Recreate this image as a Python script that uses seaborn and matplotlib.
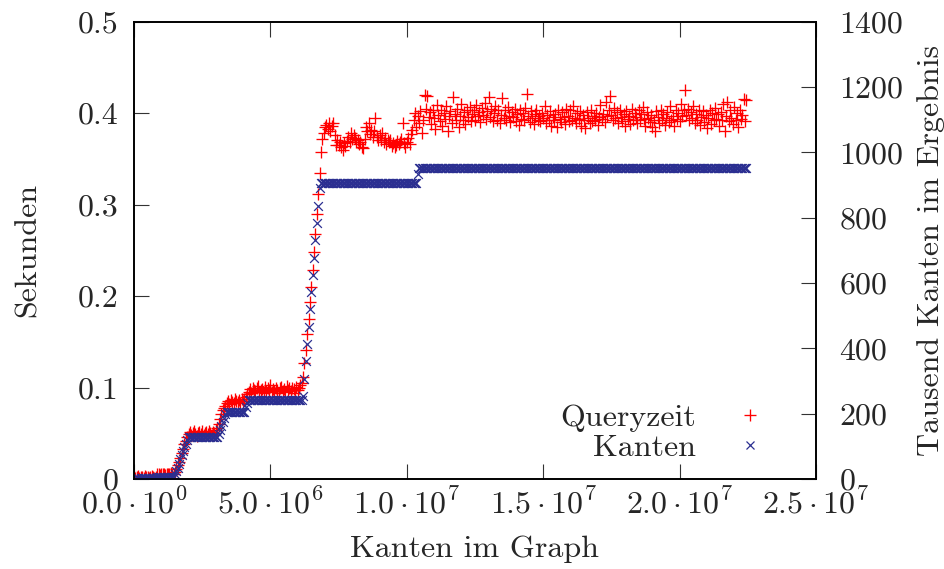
import numpy as np
import pandas as pd
import matplotlib
matplotlib.use("Agg")
import matplotlib.pyplot as plt
import seaborn as sns
from matplotlib.lines import Line2D

# ---------------- data ----------------
# Kanten im Graph, in units of 10^4 edges
kanten_graph_1e4 = [
    0, 5, 10, 15, 20, 25, 30, 35, 40, 45, 50, 55, 60, 65, 70, 75, 80, 85, 90, 95,
    100, 105, 110, 115, 120, 125, 130, 135, 140, 145, 150, 155, 160, 165, 170, 175, 180, 185, 190, 195,
    200, 205, 210, 215, 220, 225, 230, 235, 240, 245, 250, 255, 260, 265, 270, 275, 280, 285, 290, 295,
    300, 305, 310, 315, 320, 325, 330, 335, 340, 345, 350, 355, 360, 365, 370, 375, 380, 385, 390, 395,
    400, 405, 410, 415, 420, 425, 430, 435, 440, 445, 450, 455, 460, 465, 470, 475, 480, 485, 490, 495,
    500, 505, 510, 515, 520, 525, 530, 535, 540, 545, 550, 555, 560, 565, 570, 575, 580, 585, 590, 595,
    600, 605, 610, 615, 620, 625, 630, 635, 640, 645, 650, 655, 660, 665, 670, 675, 680, 685, 690, 695,
    700, 705, 710, 715, 720, 725, 730, 735, 740, 745, 750, 755, 760, 765, 770, 775, 780, 785, 790, 795,
    800, 805, 810, 815, 820, 825, 830, 835, 840, 845, 850, 855, 860, 865, 870, 875, 880, 885, 890, 895,
    900, 905, 910, 915, 920, 925, 930, 935, 940, 945, 950, 955, 960, 965, 970, 975, 980, 985, 990, 995,
    1000, 1005, 1010, 1015, 1020, 1025, 1030, 1035, 1040, 1045, 1050, 1055, 1060, 1065, 1070, 1075, 1080, 1085, 1090, 1095,
    1100, 1105, 1110, 1115, 1120, 1125, 1130, 1135, 1140, 1145, 1150, 1155, 1160, 1165, 1170, 1175, 1180, 1185, 1190, 1195,
    1200, 1205, 1210, 1215, 1220, 1225, 1230, 1235, 1240, 1245, 1250, 1255, 1260, 1265, 1270, 1275, 1280, 1285, 1290, 1295,
    1300, 1305, 1310, 1315, 1320, 1325, 1330, 1335, 1340, 1345, 1350, 1355, 1360, 1365, 1370, 1375, 1380, 1385, 1390, 1395,
    1400, 1405, 1410, 1415, 1420, 1425, 1430, 1435, 1440, 1445, 1450, 1455, 1460, 1465, 1470, 1475, 1480, 1485, 1490, 1495,
    1500, 1505, 1510, 1515, 1520, 1525, 1530, 1535, 1540, 1545, 1550, 1555, 1560, 1565, 1570, 1575, 1580, 1585, 1590, 1595,
    1600, 1605, 1610, 1615, 1620, 1625, 1630, 1635, 1640, 1645, 1650, 1655, 1660, 1665, 1670, 1675, 1680, 1685, 1690, 1695,
    1700, 1705, 1710, 1715, 1720, 1725, 1730, 1735, 1740, 1745, 1750, 1755, 1760, 1765, 1770, 1775, 1780, 1785, 1790, 1795,
    1800, 1805, 1810, 1815, 1820, 1825, 1830, 1835, 1840, 1845, 1850, 1855, 1860, 1865, 1870, 1875, 1880, 1885, 1890, 1895,
    1900, 1905, 1910, 1915, 1920, 1925, 1930, 1935, 1940, 1945, 1950, 1955, 1960, 1965, 1970, 1975, 1980, 1985, 1990, 1995,
    2000, 2005, 2010, 2015, 2020, 2025, 2030, 2035, 2040, 2045, 2050, 2055, 2060, 2065, 2070, 2075, 2080, 2085, 2090, 2095,
    2100, 2105, 2110, 2115, 2120, 2125, 2130, 2135, 2140, 2145, 2150, 2155, 2160, 2165, 2170, 2175, 2180, 2185, 2190, 2195,
    2200, 2205, 2210, 2215, 2220, 2225, 2230, 2235, 2240, 2245,
]

# Queryzeit in Sekunden (left axis)
queryzeit_s = [
    0.002, 0.001, 0.002, 0.003, 0.001, 0.002, 0.002, 0.001, 0.003, 0.002, 0.002, 0.001, 0.002, 0.003, 0.002, 0.001, 0.002,
    0.005, 0.006, 0.004, 0.005, 0.006, 0.005, 0.004, 0.006, 0.005, 0.005, 0.007, 0.005, 0.006,
    0.008, 0.011, 0.015, 0.019, 0.023, 0.028, 0.033, 0.038, 0.042, 0.046,
    0.049, 0.051, 0.048, 0.050, 0.052, 0.049, 0.047, 0.050, 0.051, 0.049, 0.053, 0.048, 0.050, 0.051, 0.049, 0.052,
    0.050, 0.048, 0.051, 0.050, 0.054, 0.056,
    0.060, 0.066, 0.071, 0.075, 0.078, 0.080,
    0.083, 0.085, 0.082, 0.086, 0.084, 0.083, 0.087, 0.085, 0.084, 0.086, 0.083, 0.088, 0.085, 0.087,
    0.090, 0.093,
    0.095, 0.098, 0.094, 0.100, 0.097, 0.096, 0.099, 0.102, 0.095, 0.097,
    0.098, 0.094, 0.101, 0.096, 0.099, 0.097, 0.103, 0.095, 0.098, 0.096,
    0.100, 0.097, 0.094, 0.099, 0.101, 0.096, 0.098, 0.095, 0.102, 0.097,
    0.099, 0.096, 0.100, 0.098, 0.094, 0.101, 0.097, 0.099, 0.103, 0.105,
    0.112, 0.127, 0.141, 0.158, 0.175, 0.193, 0.210, 0.228, 0.248, 0.268, 0.290, 0.312, 0.335,
    0.358, 0.372, 0.378, 0.385, 0.387, 0.383, 0.389, 0.380, 0.386, 0.389,
    0.376, 0.365, 0.371, 0.365, 0.368, 0.363, 0.360, 0.367, 0.364, 0.370,
    0.374, 0.368, 0.378, 0.372, 0.376, 0.373, 0.368, 0.371, 0.366, 0.369,
    0.363, 0.362, 0.372, 0.385, 0.380, 0.389, 0.377, 0.382, 0.374, 0.380,
    0.395, 0.374, 0.371, 0.376, 0.371, 0.378, 0.369, 0.373, 0.366, 0.371,
    0.368, 0.371, 0.364, 0.367, 0.363, 0.365, 0.370, 0.366, 0.369, 0.372,
    0.389, 0.367, 0.363, 0.368, 0.373, 0.366, 0.377, 0.382, 0.392, 0.400,
    0.385,
    0.397, 0.389, 0.402, 0.378, 0.392, 0.420, 0.405, 0.419, 0.396, 0.401,
    0.388, 0.404, 0.395, 0.383, 0.409, 0.398, 0.391, 0.403, 0.386, 0.400,
    0.394, 0.408, 0.381, 0.397, 0.402, 0.389, 0.418, 0.399, 0.392, 0.405,
    0.385, 0.397, 0.410, 0.393, 0.401, 0.388, 0.404, 0.396, 0.407, 0.391,
    0.399, 0.403, 0.392, 0.409, 0.397, 0.401, 0.390, 0.406, 0.398, 0.411,
    0.394, 0.402, 0.418, 0.396, 0.405, 0.391, 0.400, 0.408, 0.393, 0.403,
    0.389, 0.398, 0.417, 0.395, 0.404, 0.392, 0.407, 0.397, 0.390, 0.401,
    0.396, 0.405, 0.391, 0.399, 0.387, 0.403, 0.394, 0.400, 0.392, 0.406,
    0.421, 0.397, 0.390, 0.402, 0.395, 0.388, 0.399, 0.404, 0.393, 0.397,
    0.391, 0.400, 0.395, 0.408, 0.389, 0.398, 0.393, 0.402, 0.386, 0.396,
    0.392, 0.399, 0.385, 0.403, 0.394, 0.390, 0.401, 0.396, 0.388, 0.405,
    0.397, 0.391, 0.404, 0.393, 0.408, 0.395, 0.389, 0.400, 0.394, 0.402,
    0.386, 0.398, 0.392, 0.384, 0.401, 0.395, 0.389, 0.404, 0.391, 0.397,
    0.393, 0.400, 0.387, 0.396, 0.409, 0.394, 0.399, 0.390, 0.412, 0.397,
    0.404, 0.419, 0.398, 0.392, 0.406, 0.395, 0.401, 0.389, 0.403, 0.396,
    0.391, 0.399, 0.386, 0.402, 0.394, 0.397, 0.388, 0.405, 0.393, 0.400,
    0.396, 0.389, 0.403, 0.392, 0.399, 0.407, 0.394, 0.386, 0.401, 0.395,
    0.390, 0.398, 0.385, 0.393, 0.381, 0.402, 0.396, 0.389, 0.404, 0.392,
    0.399, 0.387, 0.395, 0.401, 0.390, 0.408, 0.393, 0.397, 0.386, 0.403,
    0.394, 0.400, 0.391, 0.410, 0.397, 0.404, 0.425, 0.398, 0.405, 0.392,
    0.401, 0.395, 0.408, 0.389, 0.399, 0.393, 0.404, 0.387, 0.396, 0.402,
    0.390, 0.398, 0.384, 0.395, 0.403, 0.388, 0.400, 0.392, 0.406, 0.394,
    0.399, 0.386, 0.401, 0.393, 0.410, 0.380, 0.397, 0.412, 0.391, 0.404,
    0.395, 0.388, 0.407, 0.392, 0.400, 0.385, 0.403, 0.394, 0.398, 0.416,
    0.391, 0.414,
]

# Tausend Kanten im Ergebnis (right axis)
kanten_ergebnis_k = [
    1, 1, 2, 2, 1, 2, 2, 3, 2, 2, 3, 2, 3, 3, 2, 3, 3,
    7, 7, 7, 7, 7, 7, 7, 7, 7, 7, 7, 7, 7,
    15, 24, 35, 47, 60, 72, 85, 97, 108, 118,
    128, 128, 128, 128, 128, 128, 128, 128, 128, 128, 128, 128, 128, 128, 128, 128, 128, 128, 128, 128,
    128, 128,
    138, 150, 163, 176, 188, 198,
    206, 206, 206, 206, 206, 206, 206, 206, 206, 206, 206, 206, 206, 206,
    220, 232,
    242, 242, 242, 242, 242, 242, 242, 242, 242, 242, 242, 242, 242, 242, 242, 242, 242, 242, 242, 242,
    242, 242, 242, 242, 242, 242, 242, 242, 242, 242, 242, 242, 242, 242, 242, 242, 242, 242, 242, 242,
    254, 307, 360, 413, 466, 519, 572, 625, 678, 731, 784, 837, 890,
    906, 906, 906, 906, 906, 906, 906, 906, 906, 906, 906, 906, 906, 906, 906, 906, 906, 906, 906, 906,
    906, 906, 906, 906, 906, 906, 906, 906, 906, 906, 906, 906, 906, 906, 906, 906, 906, 906, 906, 906,
    906, 906, 906, 906, 906, 906, 906, 906, 906, 906, 906, 906, 906, 906, 906, 906, 906, 906, 906, 906,
    906, 906, 906, 906, 906, 906, 906, 906, 906, 906, 906,
    935,
    952, 952, 952, 952, 952, 952, 952, 952, 952, 952, 952, 952, 952, 952, 952, 952, 952, 952, 952, 952,
    952, 952, 952, 952, 952, 952, 952, 952, 952, 952, 952, 952, 952, 952, 952, 952, 952, 952, 952, 952,
    952, 952, 952, 952, 952, 952, 952, 952, 952, 952, 952, 952, 952, 952, 952, 952, 952, 952, 952, 952,
    952, 952, 952, 952, 952, 952, 952, 952, 952, 952, 952, 952, 952, 952, 952, 952, 952, 952, 952, 952,
    952, 952, 952, 952, 952, 952, 952, 952, 952, 952, 952, 952, 952, 952, 952, 952, 952, 952, 952, 952,
    952, 952, 952, 952, 952, 952, 952, 952, 952, 952, 952, 952, 952, 952, 952, 952, 952, 952, 952, 952,
    952, 952, 952, 952, 952, 952, 952, 952, 952, 952, 952, 952, 952, 952, 952, 952, 952, 952, 952, 952,
    952, 952, 952, 952, 952, 952, 952, 952, 952, 952, 952, 952, 952, 952, 952, 952, 952, 952, 952, 952,
    952, 952, 952, 952, 952, 952, 952, 952, 952, 952, 952, 952, 952, 952, 952, 952, 952, 952, 952, 952,
    952, 952, 952, 952, 952, 952, 952, 952, 952, 952, 952, 952, 952, 952, 952, 952, 952, 952, 952, 952,
    952, 952, 952, 952, 952, 952, 952, 952, 952, 952, 952, 952, 952, 952, 952, 952, 952, 952, 952, 952,
    952, 952, 952, 952, 952, 952, 952, 952, 952, 952, 952, 952, 952, 952, 952, 952, 952, 952, 952, 952,
    952,
]

x_ticks = [0, 5e6, 1e7, 1.5e7, 2e7, 2.5e7]
x_tick_labels = [r"$0.0\cdot10^{0}$", r"$5.0\cdot10^{6}$", r"$1.0\cdot10^{7}$",
                 r"$1.5\cdot10^{7}$", r"$2.0\cdot10^{7}$", r"$2.5\cdot10^{7}$"]
y_left_ticks = [0, 0.1, 0.2, 0.3, 0.4, 0.5]
y_left_labels = ["0", "0.1", "0.2", "0.3", "0.4", "0.5"]
y_right_ticks = [0, 200, 400, 600, 800, 1000, 1200, 1400]
y_right_labels = ["0", "200", "400", "600", "800", "1000", "1200", "1400"]

series_names = ["Queryzeit", "Kanten"]

# ---------------- style ----------------
sns.set_theme(style="white")
plt.rcParams.update({
    "font.family": "serif",
    "font.serif": ["cmr10"],
    "mathtext.fontset": "cm",
    "axes.unicode_minus": False,
    "axes.formatter.use_mathtext": True,
})

RED = "#ff0000"
BLUE = "#2b2f91"
FS = 23

df = pd.DataFrame({
    "x": np.asarray(kanten_graph_1e4, dtype=float) * 1e4,
    "q": queryzeit_s,
    "k": kanten_ergebnis_k,
})

W, H = 945, 569
fig = plt.figure(figsize=(W / 100, H / 100), dpi=100)
L, R, T, B = 134, 816, 21.7, 479
ax = fig.add_axes([L / W, 1 - B / H, (R - L) / W, (B - T) / H])
ax2 = ax.twinx()

sns.scatterplot(data=df, x="x", y="q", marker="+", color=RED, s=70,
                linewidth=0.95, ax=ax, legend=False)
sns.scatterplot(data=df, x="x", y="k", marker="x", color=BLUE, s=40,
                linewidth=0.9, ax=ax2, legend=False)
# make sure the unfilled markers are drawn in their series colour
for a, c in ((ax, RED), (ax2, BLUE)):
    for coll in a.collections:
        coll.set_facecolor(c)
        coll.set_edgecolor(c)

ax.set_xlim(0, 2.5e7)
ax.set_ylim(0, 0.5)
ax2.set_ylim(0, 1400)

ax.set_xticks(x_ticks, x_tick_labels)
ax.set_yticks(y_left_ticks, y_left_labels)
ax2.set_yticks(y_right_ticks, y_right_labels)

tick_len = 11
ax.tick_params(axis="x", direction="in", length=tick_len, width=0.8, top=True, bottom=True,
               labelsize=FS, pad=6, color="#333333")
ax.tick_params(axis="y", direction="in", length=tick_len, width=0.8, left=True, right=False,
               labelsize=FS, pad=11, color="#333333")
ax2.tick_params(axis="y", direction="in", length=tick_len, width=0.8, right=True, left=False,
                labelsize=FS, pad=17, color="#333333")

for a in (ax, ax2):
    for sp in a.spines.values():
        sp.set_linewidth(1.2)
        sp.set_color("black")
        sp.set_visible(True)

ax.set_xlabel("Kanten im Graph", fontsize=FS)
ax.set_ylabel("Sekunden", fontsize=FS)
ax2.set_ylabel("Tausend Kanten im Ergebnis", fontsize=FS)

ax.xaxis.set_label_coords(0.5, (B - 549) / (B - T))
ax.xaxis.label.set_va("center")
ax.yaxis.set_label_coords((28 - L) / (R - L), 0.5)
ax.yaxis.label.set_va("center")
ax2.yaxis.set_label_coords((931 - L) / (R - L), 0.5)
ax2.yaxis.label.set_va("center")
ax2.yaxis.label.set_rotation(90)

handles = [
    Line2D([], [], marker="+", color=RED, ls="none", markersize=8.0, mew=0.95),
    Line2D([], [], marker="x", color=BLUE, ls="none", markersize=6.0, mew=0.9),
]
leg = ax2.legend(handles, series_names, loc="center right", frameon=False,
                 markerfirst=False, fontsize=FS, handlelength=1.5, handletextpad=0.95,
                 borderpad=0, borderaxespad=0, labelspacing=0.06,
                 bbox_to_anchor=(774 / W, 1 - 433 / H), bbox_transform=fig.transFigure)

fig.savefig("out.png", dpi=100)
